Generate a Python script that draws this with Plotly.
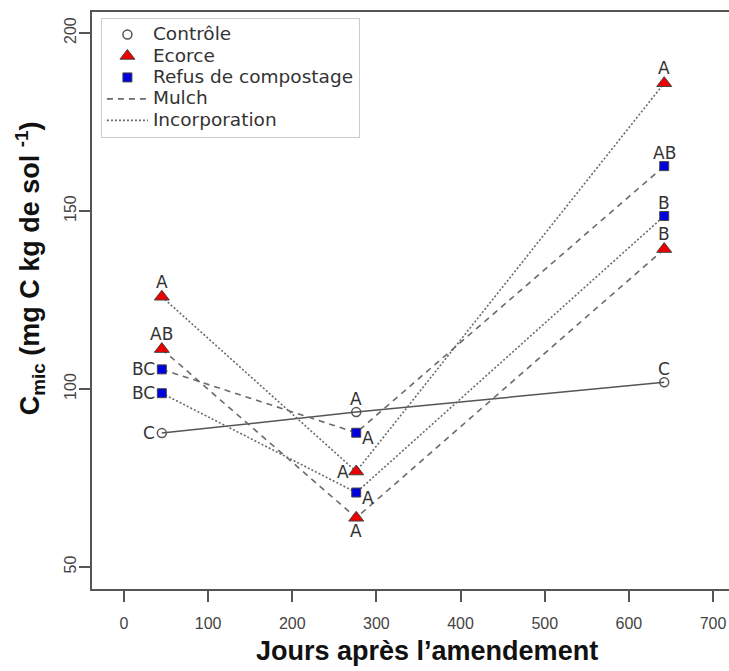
import plotly.graph_objects as go

# ---- data ----
days = [45, 276, 642]
controle = [87.6, 93.5, 101.9]
ecorce_mulch = [111.2, 63.8, 139.3]
ecorce_incorp = [125.9, 76.8, 185.9]
refus_mulch = [105.5, 87.7, 162.6]
refus_incorp = [98.8, 70.9, 148.6]

controle_letters = ["C", "A", "C"]
ecorce_mulch_letters = ["AB", "A", "B"]
ecorce_incorp_letters = ["A", "A", "A"]
refus_mulch_letters = ["BC", "A", "AB"]
refus_incorp_letters = ["BC", "A", "B"]

legend_names = ["Contrôle", "Ecorce", "Refus de compostage", "Mulch", "Incorporation"]

x_ticks = [0, 100, 200, 300, 400, 500, 600, 700]
y_ticks = [50, 100, 150, 200]

# ---- styles ----
LINE_COL = "#6a6a6a"
EDGE = "#555555"
circle = dict(symbol="circle-open", size=9, color=EDGE, line=dict(width=1.5, color=EDGE))
tri = dict(symbol="triangle-up", size=13, color="#ee0000", line=dict(width=1, color="#444444"))
sq = dict(symbol="square", size=9, color="#0000dd", line=dict(width=1, color="#444444"))
DASH = "6px,5px"
DOT = "2px,2px"

series = [
    (controle, controle_letters, circle, dict(color="#555555", width=1.5), ["left", "above", "above"]),
    (ecorce_mulch, ecorce_mulch_letters, tri, dict(color=LINE_COL, width=1.6, dash=DASH), ["above", "below", "above"]),
    (ecorce_incorp, ecorce_incorp_letters, tri, dict(color=LINE_COL, width=1.6, dash=DOT), ["above", "left", "above"]),
    (refus_mulch, refus_mulch_letters, sq, dict(color=LINE_COL, width=1.6, dash=DASH), ["left", "right", "above"]),
    (refus_incorp, refus_incorp_letters, sq, dict(color=LINE_COL, width=1.6, dash=DOT), ["left", "right", "above"]),
]

fig = go.Figure()
annotations = []
LFONT = dict(family="DejaVu Sans", size=17, color="#333333")

for vals, letters, mk, ln, places in series:
    fig.add_trace(go.Scatter(x=days, y=vals, mode="lines", line=ln, showlegend=False, hoverinfo="skip"))
for vals, letters, mk, ln, places in series:
    fig.add_trace(go.Scatter(x=days, y=vals, mode="markers", marker=mk, showlegend=False))
    for d, v, t, p in zip(days, vals, letters, places):
        up = 15 if mk is tri else 13
        if p == "above":
            kw = dict(xanchor="center", yanchor="middle", xshift=0, yshift=up)
        elif p == "below":
            kw = dict(xanchor="center", yanchor="middle", xshift=0, yshift=-13)
        elif p == "left":
            kw = dict(xanchor="right", yanchor="middle", xshift=-5, yshift=0)
        else:
            kw = dict(xanchor="left", yanchor="middle", xshift=4, yshift=-5)
        annotations.append(dict(x=d, y=v, xref="x", yref="y", text=t, showarrow=False,
                                font=LFONT, **kw))

# legend entries (text rendered larger than legend row height font)
def lg(name):
    return '<span style="font-size:18.5px">' + name + "</span>"

fig.add_trace(go.Scatter(x=[None], y=[None], mode="markers", marker=circle, name=lg(legend_names[0])))
fig.add_trace(go.Scatter(x=[None], y=[None], mode="markers", marker=tri, name=lg(legend_names[1])))
fig.add_trace(go.Scatter(x=[None], y=[None], mode="markers", marker=sq, name=lg(legend_names[2])))
fig.add_trace(go.Scatter(x=[None], y=[None], mode="lines", line=dict(color=LINE_COL, width=1.6, dash=DASH), name=lg(legend_names[3])))
fig.add_trace(go.Scatter(x=[None], y=[None], mode="lines", line=dict(color=LINE_COL, width=1.6, dash=DOT), name=lg(legend_names[4])))

TITLE_FONT = dict(family="Liberation Sans", size=27, color="#111111")
annotations.append(dict(
    text="<b>Jours après l’amendement</b>", x=0.526, y=-0.108, xref="paper", yref="paper",
    showarrow=False, xanchor="center", yanchor="middle", font=TITLE_FONT))
annotations.append(dict(
    text="<b>C<sub>mic</sub> (mg C kg de sol <sup>-1</sup>)</b>", x=-0.098, y=0.555, xref="paper", yref="paper",
    showarrow=False, xanchor="center", yanchor="middle", textangle=-90, font=TITLE_FONT))

TICKFONT = dict(family="Liberation Sans", size=16, color="#444444")
fig.update_layout(
    width=729, height=671,
    margin=dict(l=92, r=0, t=12, b=82),
    paper_bgcolor="white", plot_bgcolor="white",
    annotations=annotations,
    showlegend=True,
    legend=dict(x=0.014, y=0.99, xanchor="left", yanchor="top",
                bordercolor="#cccccc", borderwidth=1, bgcolor="white",
                font=dict(family="DejaVu Sans", size=14.2, color="#333333"),
                itemwidth=41, tracegroupgap=0),
    xaxis=dict(range=[-38, 719], tickvals=x_ticks, ticks="outside", ticklen=11, tickwidth=1.5,
               tickcolor="#555555", showline=True, linecolor="#555555", linewidth=1.5, mirror=True,
               showgrid=False, zeroline=False, tickfont=TICKFONT, ticklabelstandoff=8),
    yaxis=dict(range=[43.8, 205.9], tickvals=y_ticks, ticks="outside", ticklen=11, tickwidth=1.5,
               tickcolor="#555555", showline=True, linecolor="#555555", linewidth=1.5, mirror=False,
               showgrid=False, zeroline=False, tickfont=TICKFONT, tickangle=-90, ticklabelstandoff=-3),
)

fig.write_html("out.html")
